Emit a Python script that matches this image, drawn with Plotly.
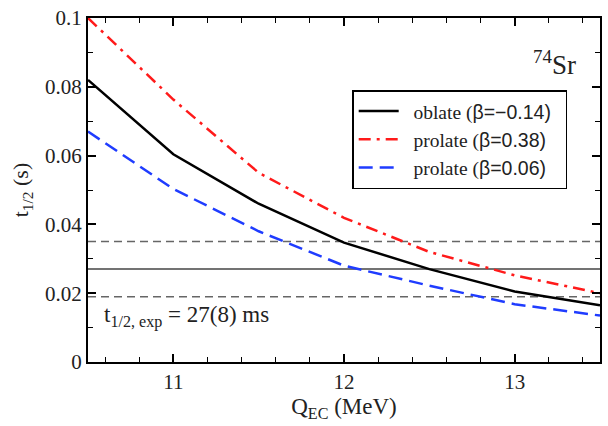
import plotly.graph_objects as go

q_ec = [10.5, 11.0, 11.5, 12.0, 12.5, 13.0, 13.5]
oblate_m014 = [0.082, 0.0604, 0.046, 0.0347, 0.027, 0.0205, 0.0165]
prolate_038 = [0.100, 0.0763, 0.055, 0.0419, 0.032, 0.0252, 0.0200]
prolate_006 = [0.067, 0.0503, 0.038, 0.0280, 0.0222, 0.0168, 0.0135]

t_exp = 0.027
t_exp_hi = 0.035
t_exp_lo = 0.019
x_range = [10.5, 13.5]

SERIF = "Liberation Serif"
SANS = "Liberation Sans"

fig = go.Figure()

# experimental band lines
fig.add_trace(go.Scatter(x=x_range, y=[t_exp, t_exp], mode="lines",
                         line=dict(color="#444444", width=1.5), showlegend=False, hoverinfo="skip"))
fig.add_trace(go.Scatter(x=x_range, y=[t_exp_hi, t_exp_hi], mode="lines",
                         line=dict(color="#666666", width=1.5, dash="8px,5px"), showlegend=False, hoverinfo="skip"))
fig.add_trace(go.Scatter(x=x_range, y=[t_exp_lo, t_exp_lo], mode="lines",
                         line=dict(color="#666666", width=1.5, dash="8px,5px"), showlegend=False, hoverinfo="skip"))

def lab(word, val):
    return f"\u00a0\u00a0{word} (<span style=\"font-family:{SANS}\">β={val})</span>\u00a0\u00a0"

fig.add_trace(go.Scatter(x=q_ec, y=oblate_m014, mode="lines", name=lab("oblate", "−0.14"),
                         line=dict(color="black", width=2.5)))
fig.add_trace(go.Scatter(x=q_ec, y=prolate_038, mode="lines", name=lab("prolate", "0.38"),
                         line=dict(color="#ff1a1a", width=2.5, dash="12px,6px,3px,6px")))
fig.add_trace(go.Scatter(x=q_ec, y=prolate_006, mode="lines", name=lab("prolate", "0.06"),
                         line=dict(color="#1f3cff", width=2.5, dash="14px,7px")))

axis_common = dict(showline=True, linecolor="black", linewidth=2, mirror="allticks",
                   ticks="inside", ticklen=8, tickwidth=1.5, tickcolor="black",
                   showgrid=False, zeroline=False,
                   tickfont=dict(family=SERIF, size=21, color="#222222"))

fig.update_layout(
    width=608, height=426,
    margin=dict(l=88, r=6, t=16, b=64),
    paper_bgcolor="white", plot_bgcolor="white",
    xaxis=dict(range=x_range, tickvals=[11, 12, 13], ticktext=["11", "12", "13"],
               minor=dict(dtick=0.2, tick0=10.6, ticks="inside", ticklen=5, tickwidth=1.2, tickcolor="black"),
               title=dict(text="Q<sub>EC</sub> (MeV)", font=dict(family=SERIF, size=23, color="#222222"), standoff=2),
               **axis_common),
    yaxis=dict(range=[0, 0.1], tickvals=[0, 0.02, 0.04, 0.06, 0.08, 0.1],
               ticktext=["0", "0.02", "0.04", "0.06", "0.08", "0.1"],
               minor=dict(dtick=0.01, ticks="inside", ticklen=5, tickwidth=1.2, tickcolor="black"),
               title=dict(text="t<sub>1/2</sub> (s)", font=dict(family=SERIF, size=22, color="#222222"), standoff=10),
               **axis_common),
    legend=dict(x=0.516, y=0.79, xanchor="left", yanchor="top",
                bgcolor="white", bordercolor="black", borderwidth=1.5,
                font=dict(family=SERIF, size=19.5, color="#222222"),
                tracegroupgap=0, itemwidth=40),
    showlegend=True,
)

fig.add_annotation(x=10.58, y=0.0085, xref="x", yref="y", xanchor="left", yanchor="bottom",
                   text="t<sub>1/2, exp</sub> = 27(8) ms", showarrow=False,
                   font=dict(family=SERIF, size=23, color="#222222"))
fig.add_annotation(x=13.37, y=0.0815, xref="x", yref="y", xanchor="right", yanchor="bottom",
                   text="<sup>74</sup>Sr", showarrow=False,
                   font=dict(family=SERIF, size=27, color="#222222"))

fig.write_html("out.html")
